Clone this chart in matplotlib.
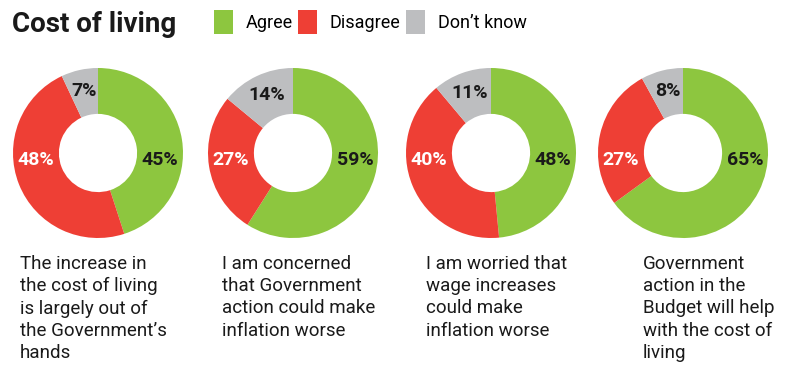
import matplotlib
matplotlib.use("Agg")
import matplotlib.pyplot as plt
from matplotlib.patches import Patch
import numpy as np

plt.rcParams['font.family'] = ['Roboto', 'DejaVu Sans']

# data
questions = [
    "The increase in\nthe cost of living\nis largely out of\nthe Government\u2019s\nhands",
    "I am concerned\nthat Government\naction could make\ninflation worse",
    "I am worried that\nwage increases\ncould make\ninflation worse",
    "Government\naction in the\nBudget will help\nwith the cost of\nliving",
]
agree = [45, 59, 48, 65]
disagree = [48, 27, 40, 27]
dont_know = [7, 14, 11, 8]

labels = ["Agree", "Disagree", "Don\u2019t know"]
colors = ["#8dc63f", "#ee3f35", "#bdbec0"]
text_colors = ["#1a1a1a", "white", "#1a1a1a"]

W, H = 800, 386
fig = plt.figure(figsize=(W / 100, H / 100), dpi=100)

centers_x = [98, 293, 491, 683]
center_y = 153
R = 85
text_x = [20, 222, 426, 643]

for i in range(4):
    cx = centers_x[i]
    ax = fig.add_axes([(cx - R) / W, (H - center_y - R) / H, 2 * R / W, 2 * R / H])
    vals = [agree[i], disagree[i], dont_know[i]]
    wedges, _ = ax.pie(vals, colors=colors, startangle=90, counterclock=False,
                       radius=1, wedgeprops=dict(width=0.54, linewidth=0))
    ax.set_xlim(-1, 1)
    ax.set_ylim(-1, 1)
    ax.set_aspect('equal')
    ax.axis('off')

    # percentage labels
    r_mid = 0.73
    # agree on the right, disagree on the left, don't know at its mid angle
    ax.text(r_mid, -0.08, f"{agree[i]}%", ha='center', va='center',
            fontsize=14, fontweight='bold', color=text_colors[0])
    ax.text(-r_mid, -0.08, f"{disagree[i]}%", ha='center', va='center',
            fontsize=14, fontweight='bold', color=text_colors[1])
    w = wedges[2]
    ang = np.deg2rad((w.theta1 + w.theta2) / 2)
    ax.text(r_mid * np.cos(ang), r_mid * np.sin(ang) + 0.02, f"{dont_know[i]}%",
            ha='center', va='center', fontsize=14, fontweight='bold',
            color=text_colors[2])

    fig.text(text_x[i] / W, 1 - 255 / H, questions[i], ha='left', va='top',
             fontsize=13.5, color='#1a1a1a', linespacing=1.3)

fig.text(12 / W, 1 - 25 / H, "Cost of living", ha='left', va='center',
         fontsize=20, fontweight='bold', color='#1a1a1a')

handles = [Patch(facecolor=c, edgecolor='none') for c in colors]
fig.legend(handles, labels, loc='center left', bbox_to_anchor=(214 / W, 1 - 22 / H),
           ncol=3, frameon=False, fontsize=13, handlelength=1.05, handleheight=1.6,
           handletextpad=0.7, columnspacing=0.3, borderpad=0, borderaxespad=0)

fig.savefig("out.png", dpi=100, facecolor='white')
